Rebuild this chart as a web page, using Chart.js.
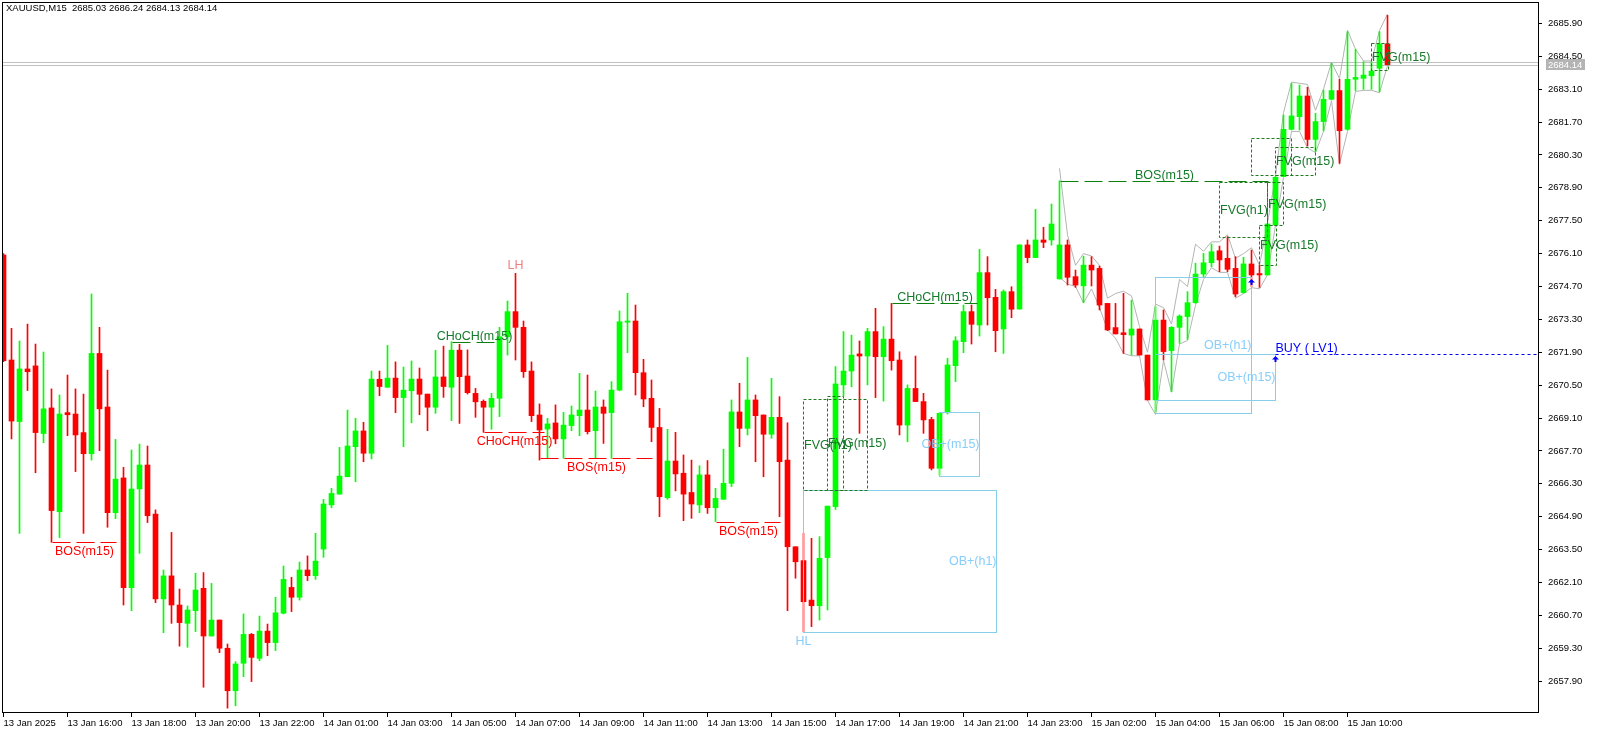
<!DOCTYPE html>
<html>
<head>
<meta charset="utf-8">
<script src="https://cdn.jsdelivr.net/npm/chart.js@4.4.1/dist/chart.umd.min.js"></script>
<style>
html, body { margin: 0; padding: 0; background: #fff; overflow: hidden; }
canvas { display: block; }
</style>
</head>
<body>
<canvas id="grafico" width="1597" height="734"></canvas>
<script>
// Velas XAUUSD M15 (barra 0 = 13 Jan 14:00)
const aperturas = [
  2676.04, 2671.57, 2668.95, 2671.19, 2671.32, 2668.44, 2669.53, 2665.11, 2669.33, 2669.27,
  2668.48, 2667.58, 2671.85, 2669.57, 2665.07, 2666.55, 2661.88, 2666.08, 2667.10, 2665.01,
  2661.40, 2662.38, 2661.14, 2660.36, 2660.90, 2661.85, 2659.82, 2660.50, 2659.30, 2657.49,
  2658.66, 2659.89, 2658.87, 2660.03, 2659.54, 2660.79, 2661.89, 2661.47, 2662.63, 2662.39,
  2663.52, 2665.40, 2665.86, 2666.60, 2667.88, 2668.55, 2667.60, 2670.75, 2670.41, 2670.80,
  2669.97, 2670.26, 2670.76, 2670.12, 2669.56, 2670.85, 2670.41, 2671.99, 2670.89, 2670.15,
  2669.81, 2669.56, 2669.94, 2672.56, 2673.63, 2672.96, 2671.10, 2669.23, 2668.63, 2668.89,
  2668.21, 2668.78, 2669.20, 2669.44, 2668.56, 2669.57, 2669.33, 2670.29, 2673.18, 2673.23,
  2671.03, 2669.94, 2668.70, 2665.71, 2667.27, 2666.75, 2665.93, 2665.40, 2666.68, 2665.28,
  2665.64, 2666.32, 2669.36, 2668.66, 2669.87, 2669.23, 2668.41, 2669.13, 2667.31, 2663.62,
  2663.03, 2661.35, 2661.11, 2663.16, 2665.33, 2670.51, 2671.10, 2671.83, 2671.74, 2672.78,
  2671.71, 2672.46, 2671.57, 2668.80, 2670.36, 2669.80, 2669.04, 2666.96, 2669.33, 2671.33,
  2672.35, 2673.63, 2673.06, 2675.29, 2674.24, 2672.89, 2674.48, 2673.74, 2676.47, 2675.93,
  2676.68, 2676.68, 2675.02, 2676.47, 2675.12, 2674.73, 2675.61, 2675.47, 2673.98, 2672.95,
  2672.73, 2672.63, 2672.89, 2671.78, 2669.87, 2673.27, 2671.97, 2672.96, 2673.42, 2674.01,
  2675.23, 2675.71, 2676.22, 2675.90, 2675.47, 2674.44, 2675.66, 2675.25, 2675.19, 2677.32,
  2679.38, 2681.39, 2681.93, 2682.81, 2680.96, 2681.72, 2682.67, 2683.04, 2681.39, 2683.52,
  2683.56, 2683.67, 2683.99, 2685.03
];
const maximos = [
  2676.10, 2672.92, 2672.38, 2673.10, 2672.25, 2671.91, 2670.34, 2670.08, 2670.93, 2670.34,
  2670.12, 2674.38, 2672.96, 2671.14, 2668.19, 2667.00, 2667.74, 2667.99, 2667.91, 2665.19,
  2662.63, 2664.23, 2661.82, 2661.10, 2662.49, 2662.52, 2662.06, 2660.50, 2659.48, 2658.73,
  2660.76, 2659.93, 2660.67, 2660.33, 2661.47, 2662.80, 2662.32, 2662.97, 2663.23, 2664.19,
  2665.64, 2666.11, 2667.85, 2669.44, 2669.09, 2668.92, 2671.10, 2671.10, 2672.19, 2671.49,
  2671.27, 2671.53, 2671.23, 2670.12, 2671.98, 2672.16, 2672.35, 2672.24, 2672.00, 2670.36,
  2669.87, 2670.15, 2672.96, 2674.08, 2675.26, 2673.23, 2671.49, 2669.70, 2669.09, 2669.66,
  2669.34, 2669.61, 2671.00, 2670.93, 2670.25, 2669.87, 2670.65, 2673.66, 2674.41, 2673.91,
  2671.60, 2670.72, 2669.51, 2668.62, 2668.49, 2667.53, 2667.31, 2667.07, 2667.29, 2666.11,
  2667.77, 2669.87, 2670.58, 2671.68, 2670.08, 2669.23, 2670.79, 2670.01, 2668.90, 2663.62,
  2664.19, 2663.98, 2664.05, 2665.35, 2671.29, 2672.78, 2672.63, 2672.38, 2672.92, 2673.77,
  2672.99, 2673.98, 2671.92, 2670.51, 2671.74, 2670.15, 2669.13, 2669.33, 2671.64, 2672.56,
  2673.91, 2673.91, 2676.28, 2675.97, 2674.58, 2674.55, 2674.69, 2676.47, 2676.68, 2677.98,
  2677.22, 2678.21, 2679.20, 2676.68, 2675.40, 2675.99, 2675.97, 2675.57, 2673.98, 2673.98,
  2674.41, 2674.12, 2672.89, 2671.78, 2673.84, 2673.70, 2672.99, 2673.49, 2674.48, 2675.69,
  2676.11, 2676.51, 2676.42, 2676.82, 2675.97, 2675.94, 2676.25, 2675.61, 2677.36, 2679.38,
  2682.00, 2683.35, 2683.28, 2683.18, 2682.07, 2683.06, 2684.20, 2683.52, 2685.55, 2684.80,
  2684.27, 2684.27, 2685.55, 2686.24
];
const minimos = [
  2671.50, 2668.21, 2664.19, 2670.27, 2666.77, 2668.05, 2663.81, 2664.01, 2668.35, 2666.82,
  2664.19, 2667.31, 2667.71, 2664.45, 2664.82, 2661.14, 2660.90, 2663.34, 2664.65, 2661.24,
  2659.96, 2660.36, 2659.39, 2659.34, 2660.01, 2657.64, 2659.82, 2659.11, 2656.75, 2656.85,
  2658.09, 2657.88, 2658.77, 2658.98, 2659.20, 2660.76, 2660.86, 2661.35, 2662.18, 2662.23,
  2663.17, 2665.28, 2665.86, 2666.60, 2666.39, 2667.24, 2667.36, 2670.05, 2670.41, 2669.33,
  2667.88, 2668.90, 2669.24, 2668.56, 2669.30, 2669.98, 2668.99, 2668.87, 2670.12, 2669.13,
  2668.49, 2668.62, 2669.16, 2671.78, 2671.57, 2670.83, 2668.95, 2667.31, 2667.41, 2668.00,
  2667.38, 2668.56, 2668.35, 2668.42, 2667.38, 2668.02, 2667.38, 2670.26, 2671.88, 2670.08,
  2669.58, 2668.09, 2664.90, 2665.64, 2666.00, 2664.73, 2664.83, 2665.07, 2665.04, 2664.69,
  2665.64, 2666.18, 2667.88, 2668.38, 2667.24, 2666.60, 2668.24, 2664.90, 2660.90, 2662.28,
  2660.00, 2660.22, 2660.50, 2660.93, 2665.21, 2670.04, 2670.43, 2668.45, 2670.51, 2669.97,
  2669.82, 2671.14, 2668.38, 2668.09, 2669.80, 2668.45, 2666.89, 2666.67, 2669.27, 2670.65,
  2671.88, 2672.25, 2672.59, 2673.06, 2671.92, 2671.85, 2673.37, 2673.73, 2675.71, 2675.93,
  2676.35, 2676.46, 2675.02, 2674.76, 2674.66, 2674.01, 2674.72, 2673.70, 2672.82, 2672.68,
  2671.85, 2671.78, 2671.78, 2669.87, 2669.36, 2671.57, 2670.22, 2672.28, 2672.45, 2673.98,
  2675.09, 2675.54, 2675.33, 2675.33, 2674.27, 2674.41, 2674.69, 2674.66, 2675.19, 2677.32,
  2679.38, 2681.36, 2681.36, 2680.68, 2680.44, 2681.32, 2682.64, 2679.94, 2681.36, 2683.04,
  2683.09, 2683.09, 2682.99, 2684.13
];
const cierres = [
  2671.54, 2668.97, 2671.19, 2671.07, 2668.48, 2669.49, 2665.16, 2669.27, 2669.24, 2668.38,
  2667.58, 2671.85, 2669.49, 2665.07, 2666.50, 2661.88, 2666.08, 2667.10, 2664.94, 2661.40,
  2662.38, 2661.14, 2660.39, 2660.93, 2661.78, 2659.82, 2660.50, 2659.30, 2657.49, 2658.63,
  2659.89, 2658.91, 2660.03, 2659.54, 2660.81, 2662.23, 2661.47, 2662.63, 2662.39, 2663.01,
  2665.44, 2665.89, 2666.63, 2667.91, 2668.55, 2667.60, 2670.76, 2670.44, 2670.80, 2669.97,
  2670.29, 2670.76, 2670.11, 2669.56, 2670.85, 2670.44, 2671.99, 2670.86, 2670.18, 2669.79,
  2669.56, 2669.94, 2672.56, 2673.63, 2672.96, 2671.07, 2669.20, 2668.59, 2668.85, 2668.21,
  2668.80, 2669.23, 2669.44, 2668.52, 2669.57, 2669.30, 2670.29, 2673.20, 2673.23, 2671.03,
  2669.91, 2668.70, 2665.75, 2667.27, 2666.72, 2665.86, 2665.44, 2666.68, 2665.28, 2665.68,
  2666.32, 2669.36, 2668.66, 2669.87, 2669.20, 2668.41, 2669.13, 2667.24, 2663.62, 2662.98,
  2661.28, 2661.11, 2663.13, 2665.35, 2670.55, 2671.10, 2671.78, 2671.74, 2672.78, 2671.71,
  2672.46, 2671.54, 2668.80, 2670.36, 2669.80, 2669.02, 2666.96, 2669.30, 2671.36, 2672.39,
  2673.63, 2673.09, 2675.29, 2674.22, 2672.82, 2674.48, 2673.73, 2676.47, 2675.93, 2676.68,
  2676.58, 2677.36, 2676.47, 2675.09, 2674.76, 2675.61, 2675.40, 2673.91, 2672.85, 2672.68,
  2672.65, 2672.89, 2671.78, 2669.87, 2673.27, 2671.93, 2672.96, 2673.44, 2674.01, 2675.23,
  2675.71, 2676.18, 2675.83, 2675.43, 2674.38, 2675.66, 2675.19, 2675.19, 2677.36, 2679.35,
  2681.39, 2681.96, 2682.81, 2680.96, 2681.72, 2682.67, 2683.04, 2681.33, 2683.52, 2683.60,
  2683.70, 2683.87, 2685.02, 2684.14
];

// Etiquetas del eje de tiempo (una cada 8 barras)
const etiquetasTiempo = [
  '13 Jan 2025', '13 Jan 16:00', '13 Jan 18:00', '13 Jan 20:00', '13 Jan 22:00',
  '14 Jan 01:00', '14 Jan 03:00', '14 Jan 05:00', '14 Jan 07:00', '14 Jan 09:00',
  '14 Jan 11:00', '14 Jan 13:00', '14 Jan 15:00', '14 Jan 17:00', '14 Jan 19:00',
  '14 Jan 21:00', '14 Jan 23:00', '15 Jan 02:00', '15 Jan 04:00', '15 Jan 06:00',
  '15 Jan 08:00', '15 Jan 10:00'
];
const ticksPrecio = [
  2657.90, 2659.30, 2660.70, 2662.10, 2663.50, 2664.90, 2666.30, 2667.70, 2669.10, 2670.50,
  2671.90, 2673.30, 2674.70, 2676.10, 2677.50, 2678.90, 2680.30, 2681.70, 2683.10, 2684.50,
  2685.90
];
const precioBid = 2684.14;
const precioAsk = 2684.24;
const titulo = 'XAUUSD,M15  2685.03 2686.24 2684.13 2684.14';

// Objetos del indicador: [barra inicio, barra fin, precio, texto, alcista]
const lineasEstructura = [
  [6, 14, 2663.81, 'BOS(m15)', false],
  [56, 61.5, 2672.32, 'CHoCH(m15)', true],
  [60, 67.5, 2668.49, 'CHoCH(m15)', false],
  [67, 81, 2667.38, 'BOS(m15)', false],
  [89, 97, 2664.69, 'BOS(m15)', false],
  [111, 121.7, 2673.98, 'CHoCH(m15)', true],
  [132, 158, 2679.20, 'BOS(m15)', true]
];
// [barra inicio, barra fin, precio alto, precio bajo, texto]
const zonasFVG = [
  [99.9, 107.96, 2669.91, 2666.04, 'FVG(h1)'],
  [102.96, 104.96, 2670.04, 2666.04, 'FVG(m15)'],
  [151.9, 157.9, 2679.13, 2676.82, 'FVG(h1)'],
  [155.96, 160.9, 2681.00, 2679.45, ''],
  [158.9, 163.9, 2680.65, 2679.45, 'FVG(m15)'],
  [157.9, 159.9, 2679.16, 2677.32, 'FVG(m15)'],
  [156.9, 159.0, 2677.32, 2675.61, 'FVG(m15)'],
  [170.9, 173.0, 2685.06, 2683.91, 'FVG(m15)']
];
const zonasOB = [
  [99.9, 124.0, 2666.04, 2659.98, 'OB+(h1)'],
  [116.9, 121.9, 2669.37, 2666.62, 'OB+(m15)'],
  [143.9, 155.9, 2675.12, 2669.30, 'OB+(h1)'],
  [143.9, 158.9, 2671.81, 2669.87, 'OB+(m15)']
];
// [barra, precio, texto, arriba, color]
const puntosSwing = [
  [64, 2675.26, 'LH', true, '#f08080'],
  [100, 2660.00, 'HL', false, '#87cefa'],
  [28, 2656.75, 'LL', false, '#87cefa']
];
const flechasCompra = [[155.9, 2675.01], [158.9, 2671.74]];
const nivelCompra = [158.9, 2671.81, 'BUY ( LV1)'];

// Líneas grises (barras 132..173)
const zzInicio = 132;
const zzArriba = [
  2679.73, 2676.9, 2675.6, 2676.1, 2676.0, 2675.6, 2674.2, 2674.4, 2674.5, 2674.3,
  2673.0, 2671.9, 2673.95, 2673.8, 2673.1, 2675.0, 2674.7, 2676.5, 2676.2, 2676.6,
  2676.6, 2676.9, 2675.9, 2676.1, 2676.35, 2675.6, 2677.4, 2679.4, 2682.1, 2683.4,
  2683.35, 2683.3, 2682.2, 2683.1, 2684.25, 2683.55, 2685.6, 2684.8, 2684.3, 2684.3,
  2685.6, 2686.3
];
const zzAbajo = [
  2675.1, 2674.8, 2674.7, 2674.0, 2674.6, 2673.8, 2672.85, 2672.5, 2671.85, 2671.75,
  2671.75, 2669.85, 2669.25, 2671.55, 2670.2, 2672.25, 2672.4, 2673.9, 2675.0, 2675.5,
  2675.3, 2675.3, 2674.2, 2674.4, 2674.65, 2674.6, 2675.2, 2677.3, 2679.35, 2681.3,
  2681.3, 2680.6, 2680.4, 2681.3, 2682.6, 2679.9, 2681.3, 2683.0, 2683.05, 2683.05,
  2682.95, 2684.1
];

const VERDE = '#00ff00';
const ROJO = '#ff0000';
const fuenteTitulo = '9.5px "Liberation Sans"';
const fuenteObj = '12.5px "Liberation Sans"';

const colores = cierres.map((c, i) => c >= aperturas[i] ? VERDE : ROJO);
const mechas = aperturas.map((_, i) => ({ x: i, y: [minimos[i], maximos[i]] }));
const cuerpos = aperturas.map((o, i) => ({ x: i, y: [o, cierres[i]] }));

function texto(ctx, t, x, y, color, align, base) {
  ctx.fillStyle = color;
  ctx.textAlign = align;
  ctx.textBaseline = base;
  ctx.fillText(t, x, y);
}

// quita el relleno automático que Chart.js pone para las etiquetas de los extremos
function sinRelleno(s) {
  s.paddingLeft = 0; s.paddingRight = 0; s.paddingTop = 0; s.paddingBottom = 0;
}

const dibujos = {
  id: 'dibujos',
  beforeDatasetsDraw(chart) {
    const { ctx, chartArea: a, scales: { x, y } } = chart;
    ctx.save();
    ctx.beginPath();
    ctx.rect(a.left, a.top, a.right - a.left, a.bottom - a.top);
    ctx.clip();
    ctx.lineWidth = 1;
    ctx.strokeStyle = '#c0c0c0';
    [precioAsk, precioBid].forEach(p => {
      const py = Math.round(y.getPixelForValue(p)) + 0.5;
      ctx.beginPath();
      ctx.moveTo(a.left, py);
      ctx.lineTo(a.right, py);
      ctx.stroke();
    });
    ctx.strokeStyle = '#b4b4b4';
    [zzArriba, zzAbajo].forEach(serie => {
      ctx.beginPath();
      serie.forEach((p, k) => {
        const px = x.getPixelForValue(zzInicio + k), py = y.getPixelForValue(p);
        if (k) ctx.lineTo(px, py); else ctx.moveTo(px, py);
      });
      ctx.stroke();
    });
    ctx.restore();
  },
  afterDatasetsDraw(chart) {
    const { ctx, chartArea: a, scales: { x, y } } = chart;
    const X = v => Math.round(x.getPixelForValue(v)) + 0.5;
    const Y = v => Math.round(y.getPixelForValue(v)) + 0.5;
    ctx.save();
    ctx.beginPath();
    ctx.rect(a.left, a.top, a.right - a.left, a.bottom - a.top);
    ctx.clip();
    ctx.lineWidth = 1;
    ctx.font = fuenteObj;

    // cajas OB
    ctx.strokeStyle = '#87ceeb';
    ctx.setLineDash([]);
    zonasOB.forEach(([b1, b2, p1, p2]) => {
      ctx.strokeRect(X(b1), Y(p1), X(b2) - X(b1), Y(p2) - Y(p1));
    });
    // cajas FVG
    ctx.strokeStyle = '#1e7b1e';
    ctx.setLineDash([3, 2]);
    zonasFVG.forEach(([b1, b2, p1, p2]) => {
      ctx.strokeRect(X(b1), Y(p1), X(b2) - X(b1), Y(p2) - Y(p1));
    });
    // BOS / CHoCH
    ctx.setLineDash([18, 6]);
    lineasEstructura.forEach(([b1, b2, p, t, alc]) => {
      const col = alc ? '#0b800b' : ROJO;
      ctx.strokeStyle = col;
      ctx.beginPath();
      ctx.moveTo(X(b1), Y(p));
      ctx.lineTo(X(b2), Y(p));
      ctx.stroke();
      const cx = (X(b1) + X(b2)) / 2;
      if (alc) texto(ctx, t, cx, Y(p) - 3, '#157a2c', 'center', 'alphabetic');
      else texto(ctx, t, cx, Y(p) + 12.5, ROJO, 'center', 'alphabetic');
    });
    // nivel de compra
    ctx.setLineDash([3, 3]);
    ctx.strokeStyle = '#0000ff';
    ctx.beginPath();
    ctx.moveTo(X(nivelCompra[0]), Y(nivelCompra[1]));
    ctx.lineTo(a.right, Y(nivelCompra[1]));
    ctx.stroke();
    ctx.setLineDash([]);
    texto(ctx, nivelCompra[2], X(nivelCompra[0]), Y(nivelCompra[1]) - 3, '#0000ff', 'left', 'alphabetic');

    // textos de zonas
    zonasFVG.forEach(([b1, b2, p1, p2, t]) => {
      if (t) texto(ctx, t, X(b1) + 0.5, (Y(p1) + Y(p2)) / 2 + 0.5, '#187a2a', 'left', 'middle');
    });
    zonasOB.forEach(([b1, b2, p1, p2, t]) => {
      texto(ctx, t, X(b2), (Y(p1) + Y(p2)) / 2 + 0.5, '#87cefa', 'right', 'middle');
    });
    // puntos swing
    puntosSwing.forEach(([b, p, t, arriba, col]) => {
      const px = x.getPixelForValue(b), py = y.getPixelForValue(p);
      texto(ctx, t, px, arriba ? py - 4 : py + 13, col, 'center', 'alphabetic');
    });
    // flechas
    ctx.fillStyle = '#0000ff';
    flechasCompra.forEach(([b, p]) => {
      const px = Math.round(x.getPixelForValue(b)), py = Math.round(y.getPixelForValue(p));
      ctx.beginPath();
      ctx.moveTo(px + 0.5, py);
      ctx.lineTo(px + 4, py + 3.5);
      ctx.lineTo(px - 3, py + 3.5);
      ctx.closePath();
      ctx.fill();
      ctx.fillRect(px - 0.5, py + 3, 2, 3);
    });
    ctx.restore();
  },
  afterDraw(chart) {
    const { ctx, chartArea: a, scales: { y } } = chart;
    ctx.save();
    ctx.strokeStyle = '#000';
    ctx.lineWidth = 1;
    ctx.strokeRect(a.left + 0.5, a.top - 0.5, a.right - a.left, a.bottom - a.top);
    ctx.font = fuenteTitulo;
    texto(ctx, titulo, 6, 4, '#000', 'left', 'top');
    // etiqueta precio actual
    const py = Math.round(y.getPixelForValue(precioBid));
    ctx.font = '9.5px "Liberation Sans"';
    ctx.fillStyle = '#b4b4b4';
    ctx.fillRect(a.right + 8, py - 6, 39, 11);
    texto(ctx, precioBid.toFixed(2), a.right + 10, py, '#ffffff', 'left', 'middle');
    ctx.restore();
  }
};

new Chart(document.getElementById('grafico'), {
  type: 'bar',
  data: {
    datasets: [
      { data: cuerpos, backgroundColor: colores, barThickness: 5, minBarLength: 1, grouped: false, order: 0 },
      { data: mechas, backgroundColor: colores, barThickness: 1, grouped: false, order: 1 }
    ]
  },
  options: {
    responsive: false,
    animation: false,
    events: [],
    layout: { padding: { left: 2, top: 3, right: 0, bottom: 0 } },
    plugins: { legend: { display: false }, tooltip: { enabled: false } },
    scales: {
      x: {
        type: 'linear',
        offset: false,
        min: -0.1875,
        max: 191.8125,
        afterFit: s => { s.height = 21; sinRelleno(s); },
        afterBuildTicks: s => { s.ticks = etiquetasTiempo.map((_, k) => ({ value: k * 8 })); },
        ticks: {
          autoSkip: false, maxRotation: 0, minRotation: 0, align: 'start', padding: 1, color: '#000',
          font: { family: 'Liberation Sans', size: 9.5 },
          callback: v => etiquetasTiempo[Math.round(v / 8)]
        },
        grid: { offset: false, drawOnChartArea: false, drawTicks: true, tickLength: 4, color: '#000' },
        border: { display: false }
      },
      y: {
        type: 'linear',
        position: 'right',
        min: 2656.543,
        max: 2686.768,
        afterFit: s => { s.width = 59; sinRelleno(s); },
        afterBuildTicks: s => { s.ticks = ticksPrecio.map(v => ({ value: v })); },
        ticks: {
          autoSkip: false, padding: 6, color: '#000',
          font: { family: 'Liberation Sans', size: 9.5 },
          callback: v => v.toFixed(2)
        },
        grid: { drawOnChartArea: false, drawTicks: true, tickLength: 4, color: '#000' },
        border: { display: false }
      }
    }
  },
  plugins: [dibujos]
});
</script>
</body>
</html>
